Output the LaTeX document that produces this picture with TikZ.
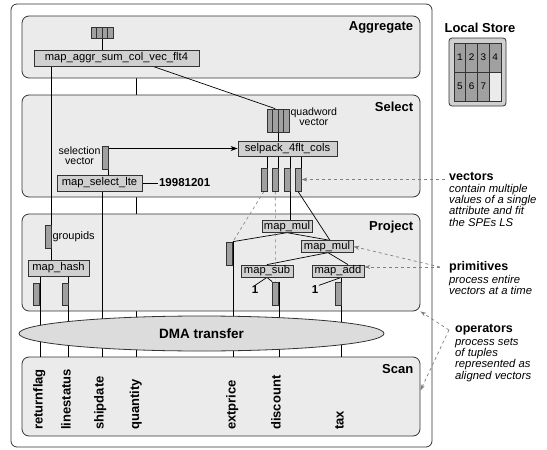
\documentclass[tikz,border=0pt]{standalone}
\usepackage{fontspec}
\setmainfont{Liberation Sans}
\setmonofont{Liberation Mono}
\usetikzlibrary{arrows.meta,shapes.geometric}
\pgfdeclarelayer{back}
\pgfdeclarelayer{panels}
\pgfdeclarelayer{wires}
\pgfsetlayers{back,panels,wires,main}
\definecolor{panelgray}{HTML}{EBEBEB}
\definecolor{boxgray}{HTML}{D0D0D0}
\definecolor{vecgray}{HTML}{A0A0A0}
\definecolor{dmagray}{HTML}{DCDCDC}
\definecolor{linegray}{HTML}{333333}
\definecolor{notegray}{HTML}{808080}

\begin{document}
\begin{tikzpicture}[
        x=1pt, y=-1pt,
        panel/.style = {draw=linegray, fill=panelgray, rounded corners=7pt, line width=0.8pt, minimum width=398pt},
        ttl/.style = {font=\fontsize{13}{13}\selectfont\bfseries, inner sep=0pt},
        prim/.style = {draw=linegray, fill=boxgray, line width=0.8pt, inner sep=0pt, font=\fontsize{11.2}{11}\selectfont},
        vec/.style = {draw=linegray, fill=vecgray, line width=0.7pt, minimum width=6pt, minimum height=23pt, inner sep=0pt},
        qcell/.style = {vec, minimum width=5.5pt},
        cell/.style = {draw=linegray, fill=vecgray, line width=0.6pt, minimum width=11.75pt, minimum height=29pt, inner sep=0pt, font=\ttfamily\fontsize{10}{10}\selectfont},
        wire/.style = {draw=black, line width=0.7pt},
        reuse/.style = {draw=notegray, dashed, line width=0.6pt},
        note/.style = {draw=notegray, dashed, line width=0.7pt, -{Stealth[length=6pt,width=4pt]}},
        col/.style = {rotate=90, anchor=mid west, font=\fontsize{13}{13}\selectfont\bfseries, inner sep=0pt},
        lit/.style = {font=\fontsize{11.5}{11}\selectfont\bfseries, inner sep=0.5pt},
        small/.style = {font=\fontsize{10.6}{9.6}\selectfont, inner sep=1pt},
        head/.style = {font=\fontsize{12.5}{12}\selectfont\bfseries, inner sep=0pt, anchor=west},
        body/.style = {font=\fontsize{11.3}{11.3}\selectfont\itshape, inner sep=0pt, anchor=north west, align=left}
    ]
    \useasboundingbox (0,0) rectangle (547,450);
    \draw[draw=linegray, line width=0.8pt, rounded corners=6pt] (11,4) rectangle (432,447);

    %--- Draw Operators ---%
    \begin{pgfonlayer}{panels}
        \node (agg) [panel, minimum height=62pt] at (221,47) {};
        \node (sel) [panel, minimum height=102pt] at (221,146) {};
        \node (proj) [panel, minimum height=97pt] at (221,262.5) {};
        \node (scan) [panel, minimum height=79pt] at (221,396.5) {};
    \end{pgfonlayer}
    \node (aggt) [ttl, anchor=east] at ([xshift=-7pt,yshift=-12pt]agg.north east) {Aggregate};
    \node (selt) [ttl, anchor=east] at ([xshift=-7pt,yshift=-12pt]sel.north east) {Select};
    \node (projt) [ttl, anchor=east] at ([xshift=-7pt,yshift=-14pt]proj.north east) {Project};
    \node (scant) [ttl, anchor=east] at ([xshift=-7pt,yshift=-12pt]scan.north east) {Scan};

    %--- Aggregate ---%
    \foreach \i in {0,...,3}
        \node (aq\i) [qcell, minimum height=11pt] at (93.75+5.5*\i,32.5) {};
    \node (aggr) [prim, minimum width=165pt, minimum height=16pt] at (116.5,58) {map\_aggr\_sum\_col\_vec\_flt4};

    %--- Select ---%
    \foreach \i in {0,...,3}
        \node (sq\i) [qcell] at (269.75+5.5*\i,120.5) {};
    \node (qwlbl) [small, anchor=west, align=center] at ([yshift=4pt]sq3.east) {quadword\\vector};
    \node (selpack) [prim, minimum width=99pt, minimum height=15pt] at (287.5,148.5) {selpack\_4flt\_cols};
    \foreach \i/\x in {1/264, 2/275.25, 3/287, 4/298}
        \node (sv\i) [vec] at (\x,179.5) {};
    \node (selv) [vec] at (105,157.5) {};
    \node (selvlbl) [small, anchor=east, align=center] at ([yshift=1.5pt]selv.west) {selection\\vector};
    \node (msel) [prim, minimum width=85pt, minimum height=16pt] at (99.5,183) {map\_select\_lte};
    \node (date) [lit, anchor=west] at ([xshift=16pt]msel.east) {19981201};

    %--- Project ---%
    \node (gv) [vec] at (48,236.5) {};
    \node (gvlbl) [small, anchor=west, font=\fontsize{11}{11}\selectfont] at (gv.east) {groupids};
    \node (mhash) [prim, minimum width=61pt, minimum height=16pt] at (58.5,268) {map\_hash};
    \node (hv1) [vec, minimum height=22pt] at (36.5,294) {};
    \node (hv2) [vec, minimum height=22pt] at (65,294) {};
    \node (ev) [vec] at (229.5,253.5) {};
    \node (mul1) [prim, minimum width=50pt, minimum height=11.5pt] at (287,226.5) {map\_mul};
    \node (mul2) [prim, minimum width=52pt, minimum height=11.5pt] at (327,246.5) {map\_mul};
    \node (msub) [prim, minimum width=52pt, minimum height=12pt] at (267,271) {map\_sub};
    \node (madd) [prim, minimum width=52pt, minimum height=12pt] at (338,271) {map\_add};
    \node (dv) [vec] at (275.5,293.5) {};
    \node (tv) [vec] at (338,293.5) {};
    \node (one1) [lit] at (255,290) {1};
    \node (one2) [lit] at (315,290) {1};

    %--- Draw Wires ---%
    \coordinate (qty-top) at (136,0 |- agg.south);
    \coordinate (qty-bot) at (136,0 |- scan.north);
    \coordinate (ship-bot) at (102,0 |- scan.north);
    \begin{pgfonlayer}{back}
        \draw[wire] (qty-top) -- (qty-bot);
    \end{pgfonlayer}
    \begin{pgfonlayer}{wires}
        \draw[wire] (aq1.south east) -- (aq1.south east |- aggr.north);
        \draw[wire] ([xshift=36.5pt]aggr.south) -- (sq1.north);
        \draw[wire] (aggr.south -| gv.east) -- (gv.east |- mhash.north);
        \draw[wire] (sq1.south east) -- (sq1.south east |- selpack.north);
        \foreach \i in {1,...,4}
            \draw[wire] (sv\i.north east |- selpack.south) -- (sv\i.north east);
        \draw[wire, -{Stealth[length=7pt,width=5pt]}] (selv.east |- selpack.west) -- (selpack.west);
        \draw[wire] (selv.south east) -- (selv.south east |- msel.north);
        \draw[wire] (msel) -- (date);
        \draw[wire] (msel.south -| ship-bot) -- (ship-bot);
        \draw[wire] (sv3.south east) -- (sv3.south east |- mul1.north);
        \draw[wire] (sv4.south) -- ([xshift=3pt]mul2.north);
        \draw[wire] (mul1.south) -- (ev.north east);
        \draw[wire] (mul1.south) -- ([xshift=3pt]mul2.north);
        \draw[wire] ([xshift=1pt]mul2.south) -- (msub.north);
        \draw[wire] ([xshift=1pt]mul2.south) -- ([xshift=10pt]madd.north);
        \draw[wire] (msub.south) -- (one1.north);
        \draw[wire] (msub.south) -- (dv.north west);
        \draw[wire] (one2.north east) -- (tv.east |- madd.south);
        % columns down to the scan
        \draw[wire] (hv1.north east |- mhash.south) -- (hv1.north east |- scan.north);
        \draw[wire] (hv2.north east |- mhash.south) -- (hv2.north east |- scan.north);
        \draw[wire] (ev.north east) -- (ev.north east |- scan.north);
        \draw[wire] (dv.north east) -- (dv.north east |- scan.north);
        \draw[wire] (tv.east |- madd.south) -- (tv.east |- scan.north);
        % same vector used again
        \draw[reuse] (sv1.south) -- (ev.north east);
        \draw[reuse] (sv2.south) -- (dv.north);
    \end{pgfonlayer}

    %--- DMA and Scan ---%
    \node (dma) [ellipse, draw=linegray, fill=dmagray, line width=0.8pt, minimum width=365pt, minimum height=35pt, inner sep=0pt, font=\fontsize{13.5}{13}\selectfont\bfseries] at (201.5,333.5) {DMA transfer};
    \foreach \name/\x/\txt in {ret/40/returnflag, lin/68/linestatus, ship/101/shipdate, qty/136.5/quantity, ext/233/extprice, disc/278/discount, tax/341/tax}
        \node (l-\name) [col] at (\x,430) {\txt};

    %--- Local Store ---%
    \node (lstitle) [ttl] at (480,28) {Local Store};
    \node (ls) [draw=linegray, fill=boxgray, rounded corners=3pt, line width=0.8pt, minimum width=57pt, minimum height=68pt] at (477.5,72) {};
    \foreach \n/\cx/\cy in {1/459.9/57.5, 2/471.6/57.5, 3/483.4/57.5, 4/495.1/57.5, 5/459.9/86.5, 6/471.6/86.5, 7/483.4/86.5}
        \node (ls\n) [cell] at (\cx,\cy) {\n};
    \node (ls8) [cell, fill=panelgray] at (495.1,86.5) {};

    %--- Notes ---%
    \node (nvec) [head] at (449,176) {vectors};
    \node (nvecb) [body] at (449,183.8) {contain multiple\\values of a single\\attribute and fit\\the SPEs LS};
    \node (nprim) [head] at (449,267) {primitives};
    \node (nprimb) [body] at (449,274.8) {process entire\\vectors at a time};
    \node (nop) [head] at (455,330) {operators};
    \node (nopb) [body] at (455,337.8) {process sets\\of tuples\\represented as\\aligned vectors};
    \coordinate (vec-from) at (445,0 |- sv4.east);
    \coordinate (prim-from) at (440,267);
    \coordinate (op-from) at (449,330);
    \draw[note] (vec-from) -- (sv4.east);
    \draw[note] (prim-from) -- (prim-from -| madd.east);
    \draw[note] (prim-from) -- (mul2.east);
    \draw[note] (op-from) -- (proj.south east);
    \draw[note] (op-from) -- ([yshift=6pt]scan.east);
\end{tikzpicture}
\end{document}
